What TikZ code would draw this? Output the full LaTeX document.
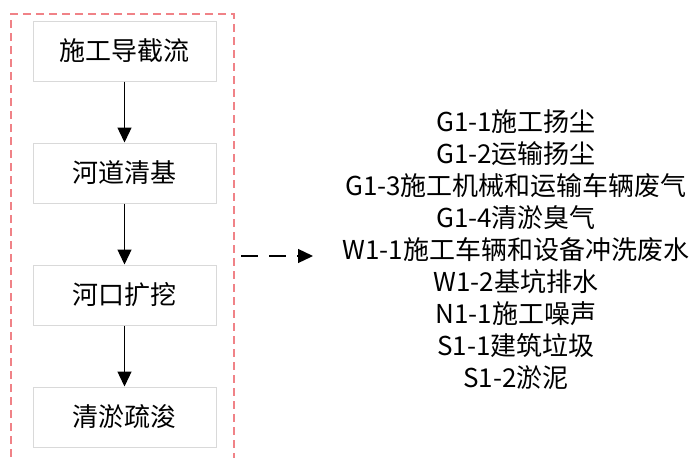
\documentclass[tikz,border=0pt]{standalone}
\usepackage{fontspec}
\setmainfont{Noto Sans CJK SC}
\usetikzlibrary{arrows.meta}
\definecolor{boxgray}{RGB}{217,217,217}
\definecolor{linered}{RGB}{240,130,135}
\tikzstyle{stage} = [rectangle, minimum width=183pt, minimum height=60pt, text centered, draw=boxgray, line width=1pt, fill=white, font=\fontsize{26}{30}\selectfont]
\tikzstyle{arrow} = [line width=1.3pt, -{Triangle[length=15pt, width=14pt]}]
\tikzstyle{dasharrow} = [line width=1.3pt, dash pattern=on 17pt off 11pt, -{Triangle[length=15pt, width=14pt]}]
\tikzstyle{frame} = [draw=linered, line width=1.2pt, dash pattern=on 8pt off 5pt]
\begin{document}
\begin{tikzpicture}[x=1pt, y=-1pt, node distance = 122pt]
  \useasboundingbox (0,0) rectangle (694,458);
  \draw [frame] (11,470) -- (11,14) -- (234,14) -- (234,470);
  \node (daoliu) [stage] at (124.5,51) {施工导截流};
  \node (qingji) [stage, below of = daoliu] {河道清基};
  \node (kuowa) [stage, below of = qingji] {河口扩挖};
  \node (shujun) [stage, below of = kuowa] {清淤疏浚};
  \node (emis) [align=center, inner sep=0pt, font=\fontsize{26}{32}\selectfont] at (516,250) {G1-1施工扬尘\\G1-2运输扬尘\\G1-3施工机械和运输车辆废气\\G1-4清淤臭气\\W1-1施工车辆和设备冲洗废水\\W1-2基坑排水\\N1-1施工噪声\\S1-1建筑垃圾\\S1-2淤泥};
  \coordinate (src) at (241,256);
  \coordinate (dst) at (313,256);
  \draw [arrow] (daoliu) -- (qingji);
  \draw [arrow] (qingji) -- (kuowa);
  \draw [arrow] (kuowa) -- (shujun);
  \draw [dasharrow] (src) -- (dst);
\end{tikzpicture}
\end{document}
